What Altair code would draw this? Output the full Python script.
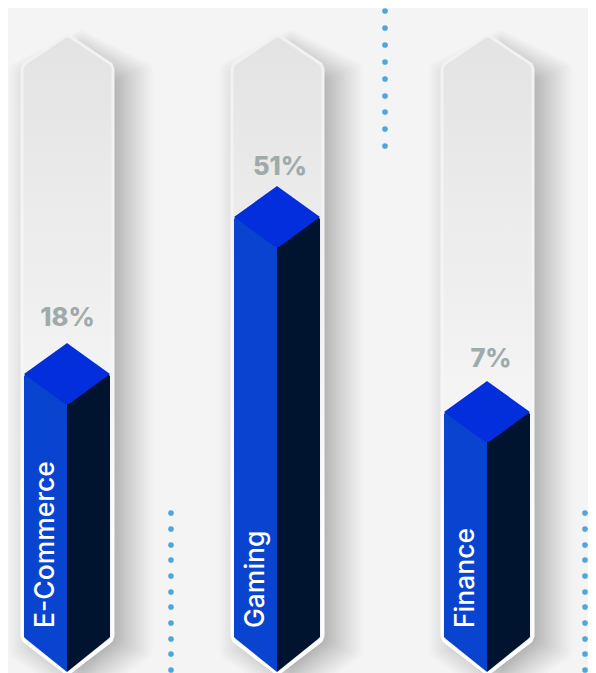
import altair as alt
import pandas as pd

# ---- values (reference pixels are the data unit) ----
categories = ["E-Commerce", "Gaming", "Finance"]
pct_labels = ["18%", "51%", "7%"]
bar_centers = [67, 277, 487]
bar_shoulders = [374, 217, 412]
pct_x = [67.5, 280, 491]
pct_y = [318, 167, 359]
dots_a_y = [11, 28, 45, 62, 79, 96, 112, 129, 146]
dots_b_y = [513, 529, 545, 560, 576, 592, 607, 623, 639, 654, 670]
# the right-hand column sits at 589 in the reference; the page only leaves room up to 588
dots_x = [385, 171, 585]

TOP_APEX, TOP_SH, BOT_SH, BOT_APEX = 35, 65, 640, 674


def hexagon(cx, h, ya, ys, yb, yz, key, chamfer=3.0):
    """Area outline with softened shoulders and apexes."""
    slope = (ys - ya) / h
    c = chamfer
    rows = [
        (cx - h, ys + c, yb - c),
        (cx - h + c * 0.45, ys - c * 0.2, yb + c * 0.2),
        (cx - 2, ya + 2 * slope, yz - 2 * slope),
        (cx, ya + 0.8, yz - 0.8),
        (cx + 2, ya + 2 * slope, yz - 2 * slope),
        (cx + h - c * 0.45, ys - c * 0.2, yb + c * 0.2),
        (cx + h, ys + c, yb - c),
    ]
    return [dict(key=key, x=x, y=y, y2=y2) for x, y, y2 in rows]


shadow_rows, track_rows, left_rows, right_rows, top_rows = [], [], [], [], []
N = 18
for b, (cx, sh) in enumerate(zip(bar_centers, bar_shoulders)):
    for i in range(N):
        e = -14 + 39 * (i / (N - 1)) ** 1.25
        shadow_rows += hexagon(cx + 14, 46.5 + e, TOP_APEX + 12 - e * 0.7, TOP_SH + 10 - e * 0.4,
                               BOT_SH + 6 + e * 0.4, BOT_APEX + 6 + e, f"{b}-{i}", 4)
    track_rows += hexagon(cx + 0.5, 45.5, TOP_APEX, TOP_SH, BOT_SH, BOT_APEX, f"t{b}", 4)
    ya, yv = sh - 31, sh + 30
    h = 43
    top_rows += [
        dict(key=f"d{b}", x=cx - h, y=sh, y2=sh),
        dict(key=f"d{b}", x=cx - 2, y=ya + 1.5, y2=yv),
        dict(key=f"d{b}", x=cx, y=ya, y2=yv),
        dict(key=f"d{b}", x=cx + 2, y=ya + 1.5, y2=yv),
        dict(key=f"d{b}", x=cx + h, y=sh, y2=sh),
    ]
    left_rows += [
        dict(key=f"l{b}", x=cx - h, y=sh + 2, y2=BOT_SH - 3),
        dict(key=f"l{b}", x=cx - h + 2, y=sh, y2=BOT_SH - 1),
        dict(key=f"l{b}", x=cx, y=yv, y2=BOT_APEX - 2),
    ]
    right_rows += [
        dict(key=f"r{b}", x=cx, y=yv, y2=BOT_APEX - 2),
        dict(key=f"r{b}", x=cx + h - 2, y=sh, y2=BOT_SH - 1),
        dict(key=f"r{b}", x=cx + h, y=sh + 2, y2=BOT_SH - 3),
    ]

dots = pd.DataFrame(
    [dict(x=dots_x[0], y=y) for y in dots_a_y]
    + [dict(x=dots_x[1], y=y) for y in dots_b_y]
    + [dict(x=dots_x[2], y=y) for y in dots_b_y]
)
pct = pd.DataFrame(dict(x=pct_x, y=pct_y, t=pct_labels))
cat = pd.DataFrame(dict(x=[c - 13 for c in bar_centers], y=[628] * 3, t=categories))

X = alt.X("x:Q", axis=None, scale=alt.Scale(domain=[8, 588], nice=False, zero=False))
Y = alt.Y("y:Q", axis=None, scale=alt.Scale(domain=[673, 8], nice=False, zero=False))
Y2 = alt.Y2("y2:Q")


def area(rows, **kw):
    return alt.Chart(pd.DataFrame(rows)).mark_area(interpolate="linear", **kw).encode(
        x=X, y=Y, y2=Y2, detail="key:N"
    )


track_fill = alt.Gradient(
    gradient="linear", x1=0, x2=0, y1=0, y2=1,
    stops=[
        alt.GradientStop(offset=0, color="#e3e3e3"),
        alt.GradientStop(offset=0.6, color="#f5f5f5"),
        alt.GradientStop(offset=1, color="#f5f5f5"),
    ],
)
track_stroke = alt.Gradient(
    gradient="linear", x1=0, x2=0, y1=0, y2=1,
    stops=[
        alt.GradientStop(offset=0, color="#f1f1f1"),
        alt.GradientStop(offset=0.55, color="#f6f6f6"),
        alt.GradientStop(offset=0.8, color="#ffffff"),
        alt.GradientStop(offset=1, color="#ffffff"),
    ],
)

layers = [
    area(shadow_rows, color="#000000", opacity=0.017),
    area(track_rows, color=track_fill, stroke=track_stroke, strokeWidth=3, strokeJoin="round"),
    area(left_rows, color="#0944d0"),
    area(right_rows, color="#00142f"),
    area(top_rows, color="#032edb"),
    alt.Chart(dots).mark_circle(size=32, color="#4fa5dc", opacity=1).encode(x=X, y=Y),
    alt.Chart(pct).mark_text(font="Inter", fontSize=25.5, fontWeight=800, color="#9faaab",
                             align="center", baseline="middle").encode(x=X, y=Y, text="t:N"),
    alt.Chart(cat).mark_text(font="Inter", fontSize=26.5, fontWeight=500, color="#ffffff",
                             angle=270, align="left", baseline="alphabetic").encode(x=X, y=Y, text="t:N"),
]

chart = (
    alt.layer(*layers)
    .properties(width=580, height=665, background="#f4f4f4", padding=0,
                autosize=alt.AutoSizeParams(type="none"))
    .configure_view(stroke=None)
)
chart.save("out.html", embed_options={"renderer": "svg", "actions": False})
